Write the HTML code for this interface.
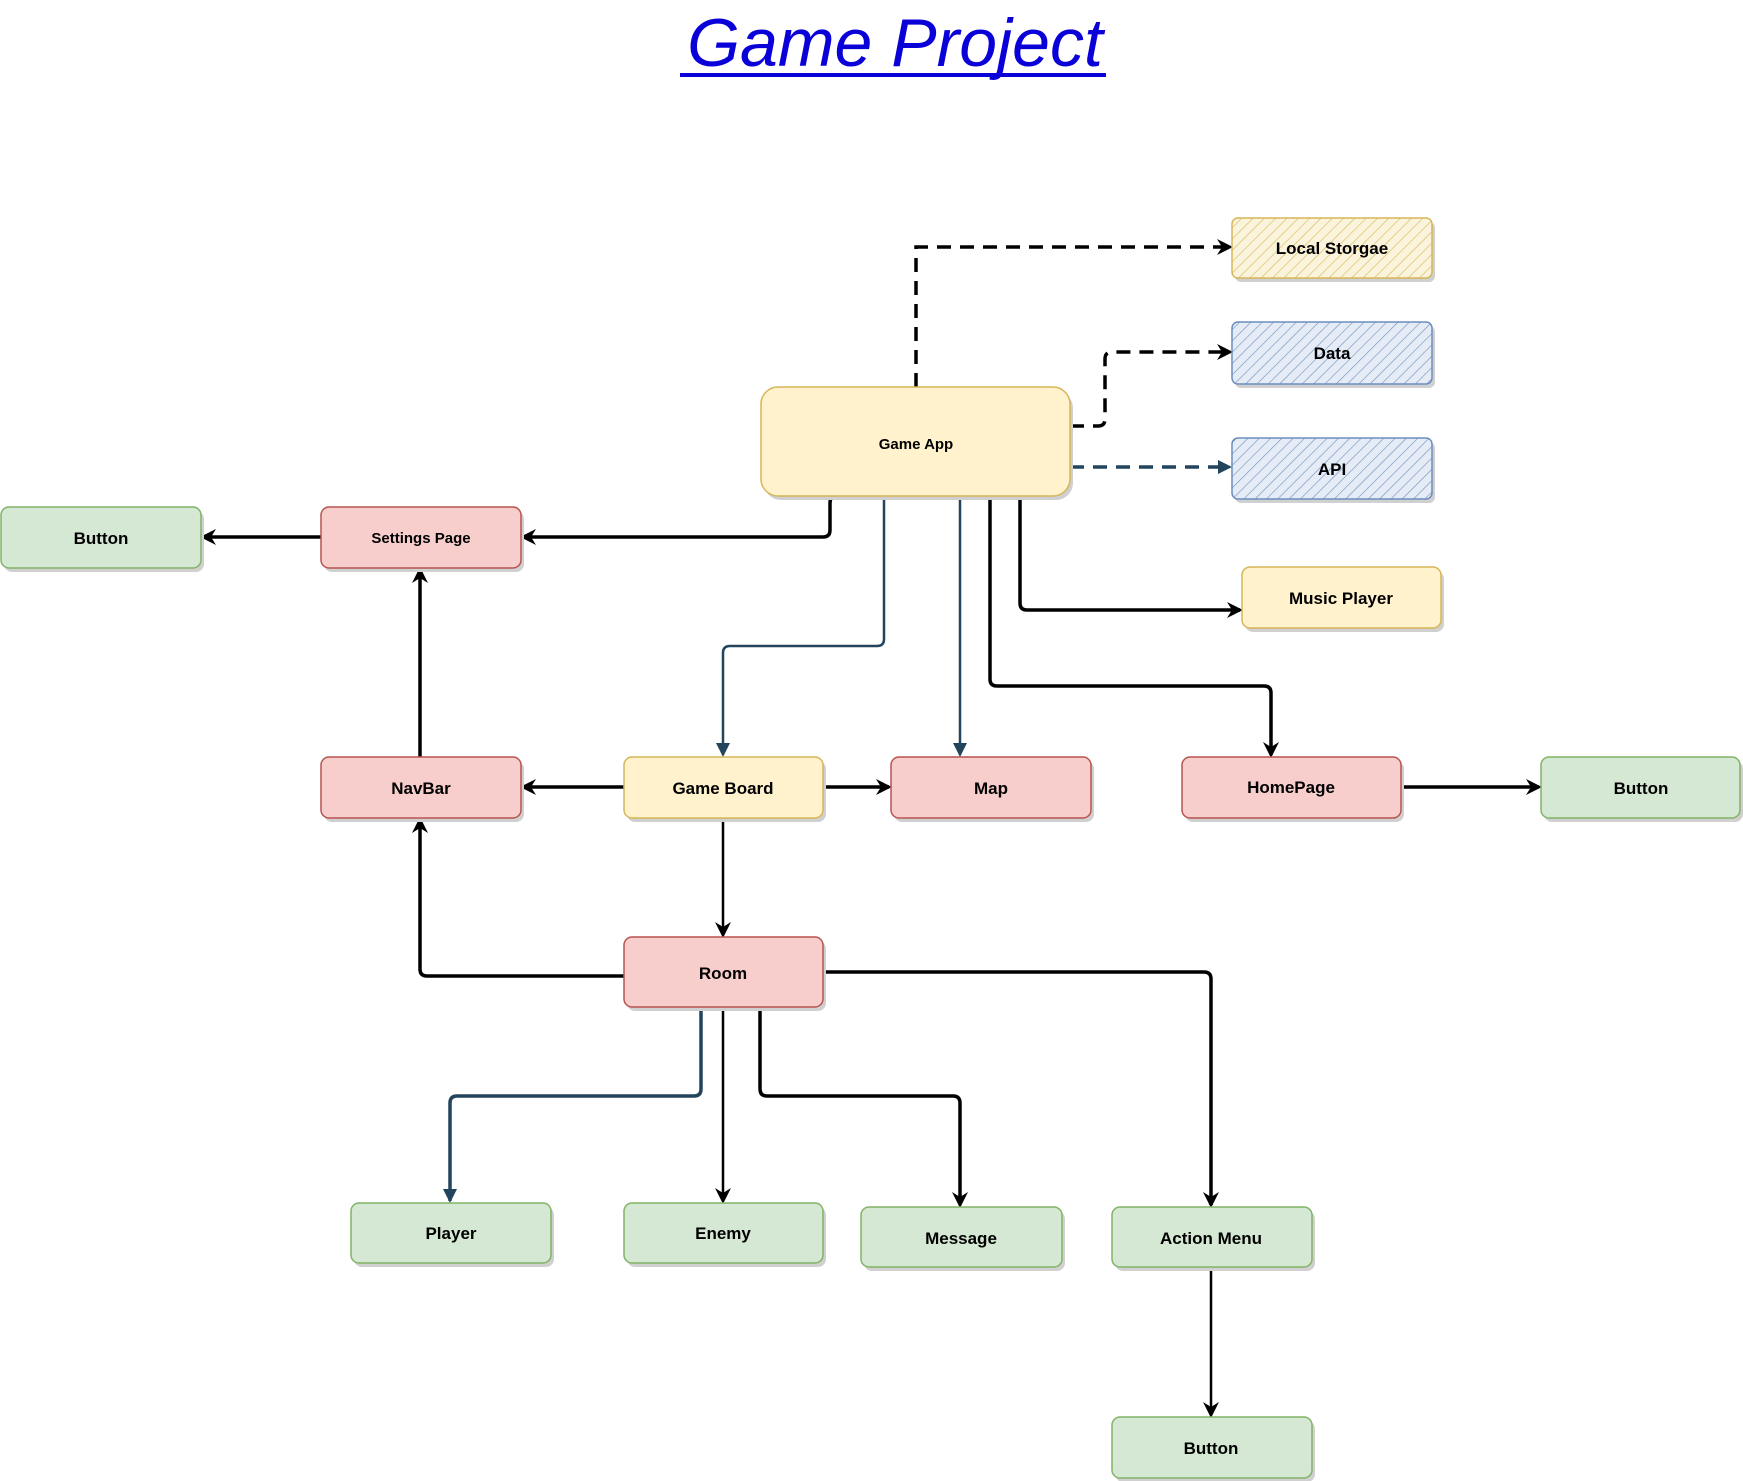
<!DOCTYPE html>
<html><head><meta charset="utf-8"><style>
html,body{margin:0;padding:0;background:#fff;width:1743px;height:1481px;overflow:hidden}
svg{display:block}
text{font-family:"Liberation Sans",Arial,sans-serif;font-weight:bold;fill:#000}
</style></head><body>
<svg width="1743" height="1481" viewBox="0 0 1743 1481" xmlns="http://www.w3.org/2000/svg">
<defs>
<pattern id="hy" width="8" height="8" patternUnits="userSpaceOnUse" patternTransform="rotate(45)"><rect width="8" height="8" fill="#fbf4dc"/><line x1="0" y1="0" x2="0" y2="8" stroke="#d6b656" stroke-width="1.2"/></pattern>
<pattern id="hb" width="8" height="8" patternUnits="userSpaceOnUse" patternTransform="rotate(45)"><rect width="8" height="8" fill="#e6ecf6"/><line x1="0" y1="0" x2="0" y2="8" stroke="#6c8ebf" stroke-width="1.2"/></pattern>
<marker id="ak" markerWidth="16" markerHeight="16" refX="13" refY="8" orient="auto" markerUnits="userSpaceOnUse"><path d="M0,0 L16,8 L0,16 L5,8 Z" fill="#000"/></marker>
<marker id="ab" markerWidth="14" markerHeight="14" refX="12" refY="7" orient="auto" markerUnits="userSpaceOnUse"><path d="M0,0 L14,7 L0,14 Z" fill="#23445d"/></marker>
</defs>

<text x="895" y="66" text-anchor="middle" font-size="68" font-style="italic" style="font-weight:normal;fill:#0a00d8">Game Project</text>
<line x1="680" y1="75" x2="1106" y2="75" stroke="#0a00d8" stroke-width="4"/>

<g fill="none" stroke-width="3.5">
<path d="M916,387 V247 H1230" stroke="#000" stroke-dasharray="14,9" marker-end="url(#ak)"/>
<path d="M1070,426 H1098 Q1105,426 1105,419 V359 Q1105,352 1112,352 H1230" stroke="#000" stroke-dasharray="14,9" marker-end="url(#ak)"/>
<path d="M1070,467 H1230" stroke="#23445d" stroke-dasharray="14,9" marker-end="url(#ab)"/>
<path d="M836,496 Q830,496 830,503 V530 Q830,537 823,537 H523" stroke="#000" marker-end="url(#ak)"/>
<path d="M321,537 H203" stroke="#000" marker-end="url(#ak)"/>
<path d="M884,496 V639 Q884,646 877,646 H730 Q723,646 723,653 V755" stroke="#23445d" stroke-width="2.5" marker-end="url(#ab)"/>
<path d="M960,496 V755" stroke="#23445d" stroke-width="2.5" marker-end="url(#ab)"/>
<path d="M990,496 V679 Q990,686 997,686 H1264 Q1271,686 1271,693 V755" stroke="#000" marker-end="url(#ak)"/>
<path d="M1020,496 V603 Q1020,610 1027,610 H1240" stroke="#000" marker-end="url(#ak)"/>
<path d="M624,787 H523" stroke="#000" marker-end="url(#ak)"/>
<path d="M823,787 H889" stroke="#000" marker-end="url(#ak)"/>
<path d="M1401,787 H1539" stroke="#000" marker-end="url(#ak)"/>
<path d="M420,757 V570" stroke="#000" marker-end="url(#ak)"/>
<path d="M723,818 V935" stroke="#000" stroke-width="2.5" marker-end="url(#ak)"/>
<path d="M624,976 H427 Q420,976 420,969 V820" stroke="#000" marker-end="url(#ak)"/>
<path d="M823,972 H1204 Q1211,972 1211,979 V1205" stroke="#000" marker-end="url(#ak)"/>
<path d="M701,1007 V1089 Q701,1096 694,1096 H457 Q450,1096 450,1103 V1201" stroke="#23445d" marker-end="url(#ab)"/>
<path d="M723,1007 V1201" stroke="#000" stroke-width="2.5" marker-end="url(#ak)"/>
<path d="M760,1007 V1089 Q760,1096 767,1096 H953 Q960,1096 960,1103 V1205" stroke="#000" marker-end="url(#ak)"/>
<path d="M1211,1267 V1415" stroke="#000" stroke-width="2.5" marker-end="url(#ak)"/>
</g>

<g stroke-width="1.5">
<g fill="#d0d0d0" stroke="none">
<rect x="764" y="391" width="309" height="109" rx="17"/>
<rect x="324" y="511" width="200" height="61" rx="8"/><rect x="4" y="511" width="200" height="61" rx="8"/>
<rect x="1245" y="571" width="199" height="61" rx="8"/>
<rect x="324" y="761" width="200" height="61" rx="8"/><rect x="627" y="761" width="199" height="61" rx="8"/>
<rect x="894" y="761" width="200" height="61" rx="8"/><rect x="1185" y="761" width="219" height="61" rx="8"/>
<rect x="1544" y="761" width="199" height="61" rx="8"/><rect x="627" y="941" width="199" height="70" rx="8"/>
<rect x="354" y="1207" width="200" height="60" rx="8"/><rect x="627" y="1207" width="199" height="60" rx="8"/>
<rect x="864" y="1211" width="201" height="60" rx="8"/><rect x="1115" y="1211" width="200" height="60" rx="8"/>
<rect x="1115" y="1421" width="200" height="61" rx="8"/>
<rect x="1235" y="222" width="200" height="60" rx="6"/><rect x="1235" y="326" width="200" height="62" rx="6"/><rect x="1235" y="442" width="200" height="61" rx="6"/>
</g>
<rect x="1232" y="218" width="200" height="60" rx="6" fill="url(#hy)" stroke="#d6b656"/>
<rect x="1232" y="322" width="200" height="62" rx="6" fill="url(#hb)" stroke="#6c8ebf"/>
<rect x="1232" y="438" width="200" height="61" rx="6" fill="url(#hb)" stroke="#6c8ebf"/>
<g fill="#fff2cc" stroke="#d6b656">
<rect x="761" y="387" width="309" height="109" rx="17"/>
<rect x="1242" y="567" width="199" height="61" rx="8"/>
<rect x="624" y="757" width="199" height="61" rx="8"/>
</g>
<g fill="#f8cecc" stroke="#b85450">
<rect x="321" y="507" width="200" height="61" rx="8"/>
<rect x="321" y="757" width="200" height="61" rx="8"/>
<rect x="891" y="757" width="200" height="61" rx="8"/>
<rect x="1182" y="757" width="219" height="61" rx="8"/>
<rect x="624" y="937" width="199" height="70" rx="8"/>
</g>
<g fill="#d5e8d4" stroke="#82b366">
<rect x="1" y="507" width="200" height="61" rx="8"/>
<rect x="1541" y="757" width="199" height="61" rx="8"/>
<rect x="351" y="1203" width="200" height="60" rx="8"/>
<rect x="624" y="1203" width="199" height="60" rx="8"/>
<rect x="861" y="1207" width="201" height="60" rx="8"/>
<rect x="1112" y="1207" width="200" height="60" rx="8"/>
<rect x="1112" y="1417" width="200" height="61" rx="8"/>
</g>
</g>

<g text-anchor="middle" font-size="17">
<text x="1332" y="254">Local Storgae</text>
<text x="1332" y="359">Data</text>
<text x="1332" y="475">API</text>
<text x="916" y="449" font-size="15">Game App</text>
<text x="1341" y="604">Music Player</text>
<text x="421" y="543" font-size="15">Settings Page</text>
<text x="101" y="544">Button</text>
<text x="421" y="794">NavBar</text>
<text x="723" y="794">Game Board</text>
<text x="991" y="794">Map</text>
<text x="1291" y="793">HomePage</text>
<text x="1641" y="794">Button</text>
<text x="723" y="979">Room</text>
<text x="451" y="1239">Player</text>
<text x="723" y="1239">Enemy</text>
<text x="961" y="1244">Message</text>
<text x="1211" y="1244">Action Menu</text>
<text x="1211" y="1454">Button</text>
</g>
</svg>
</body></html>
